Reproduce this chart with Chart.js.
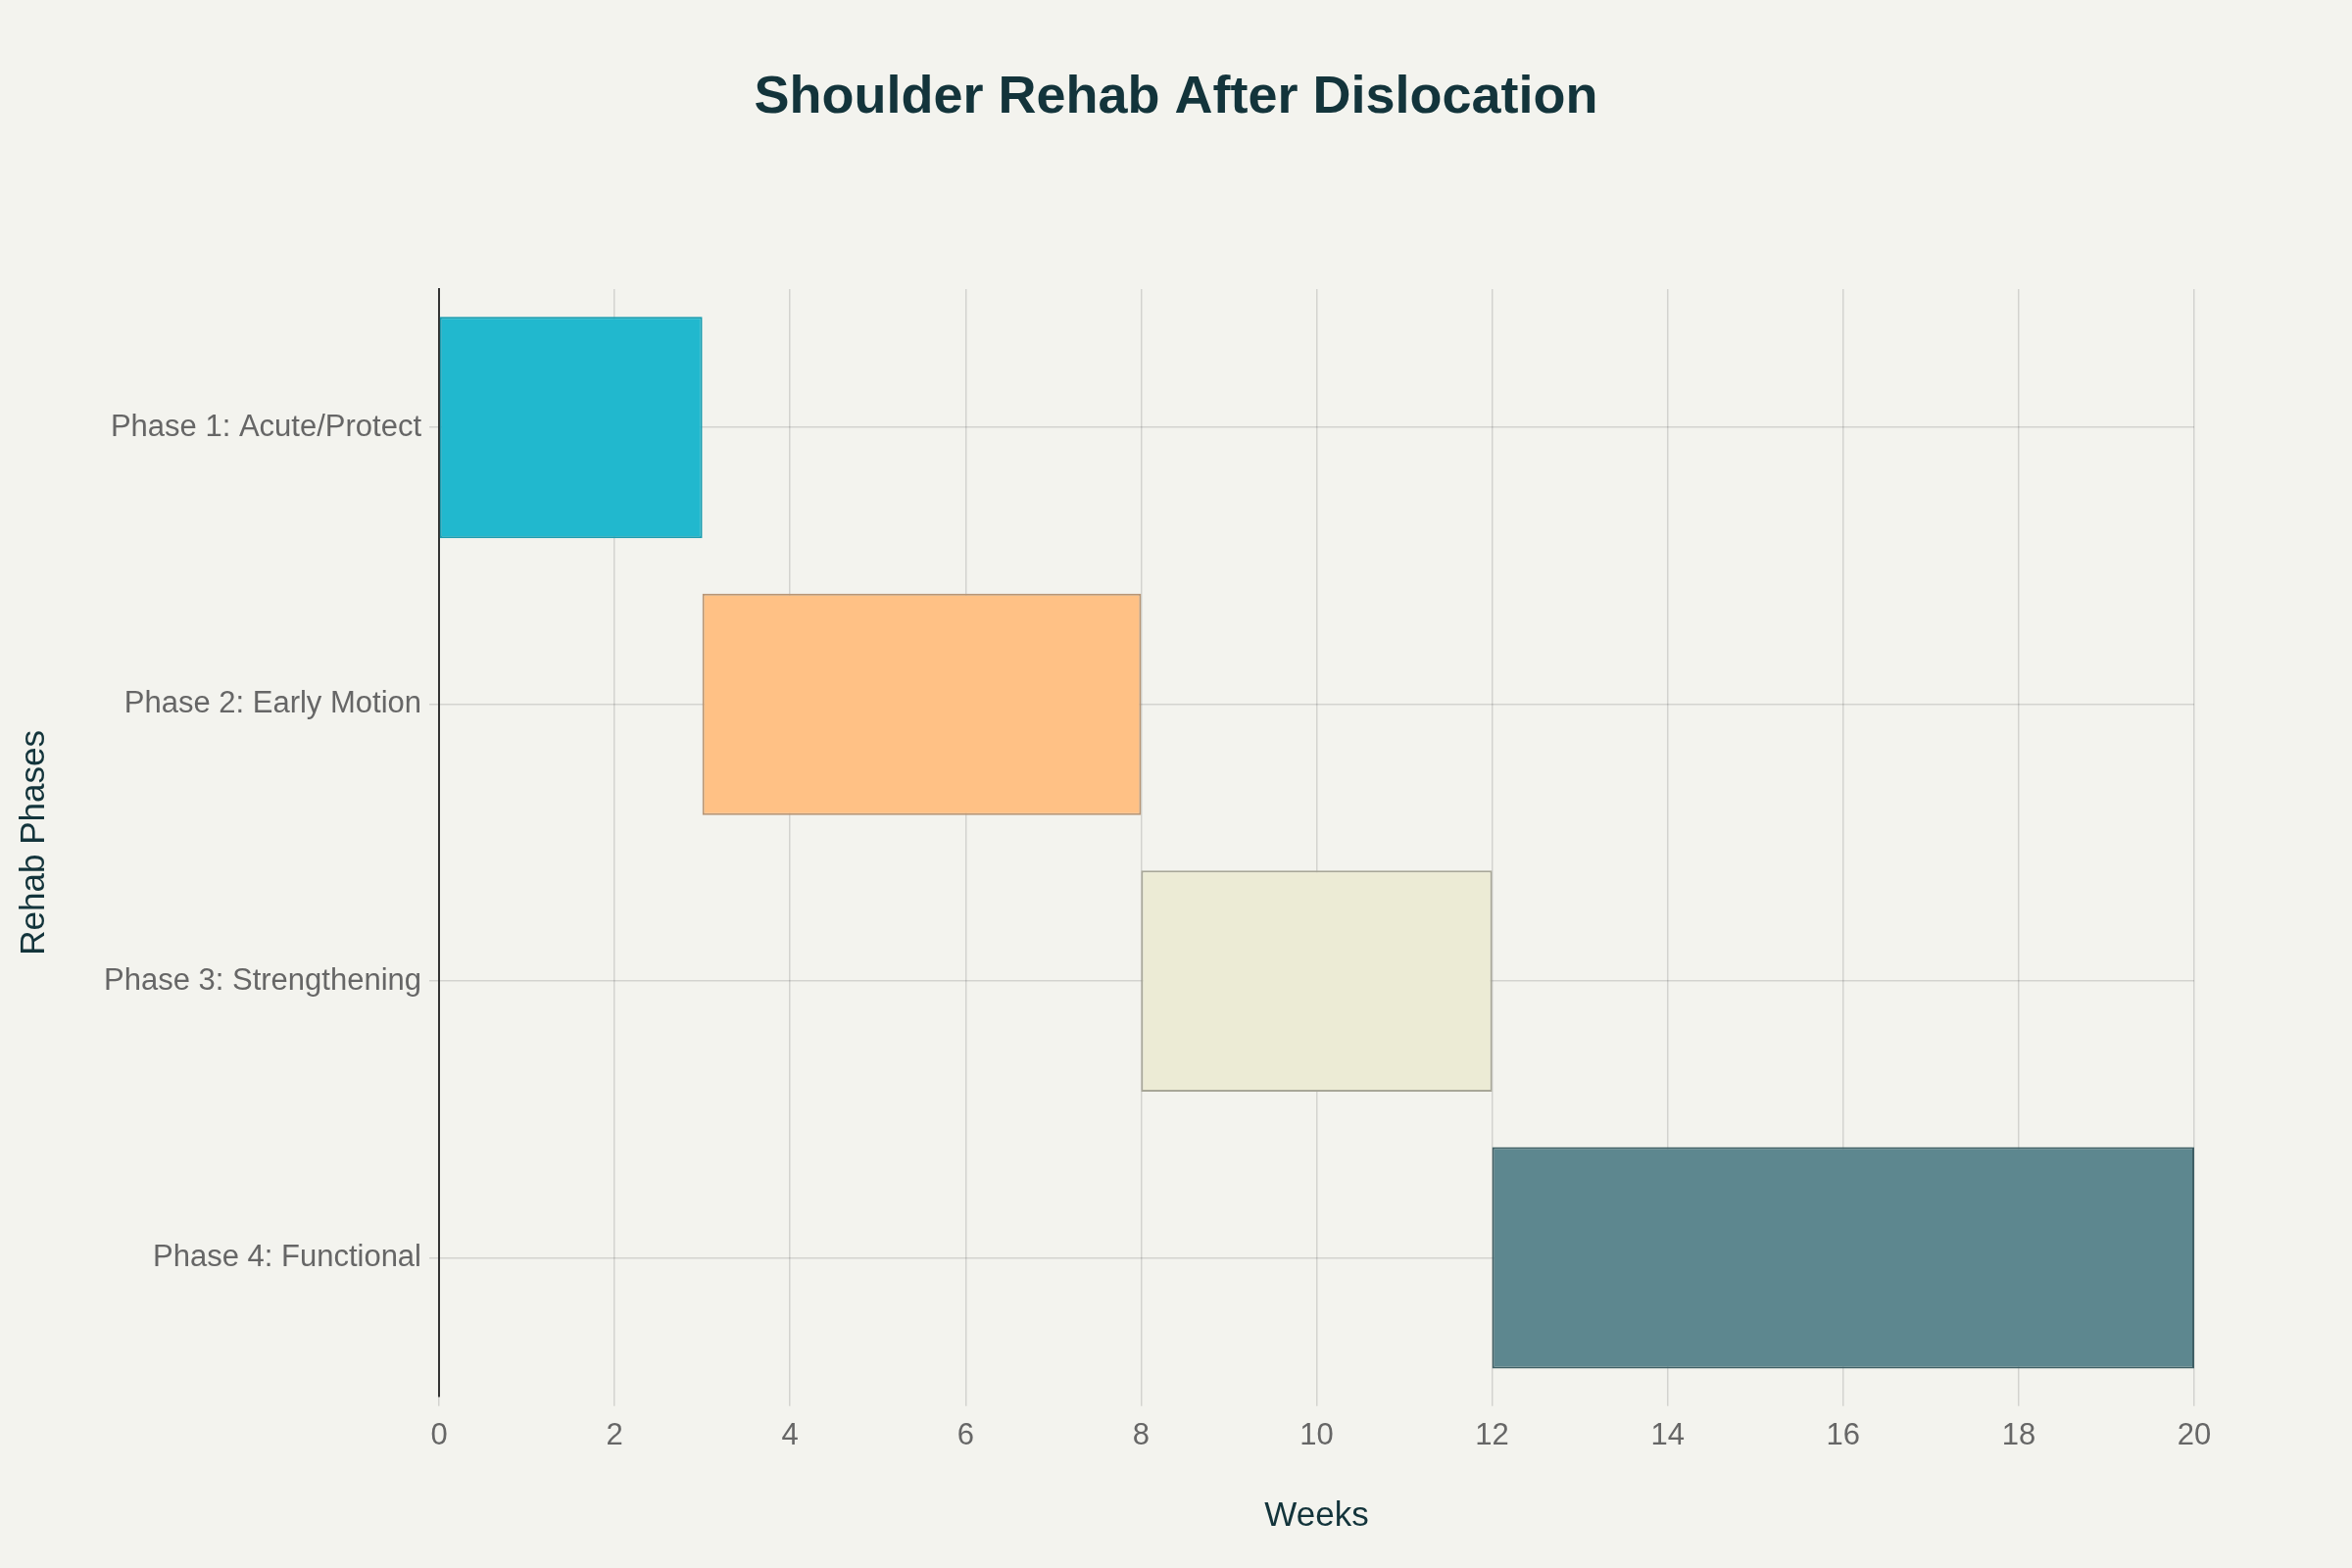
<!DOCTYPE html>
<html>
<head>
<meta charset="utf-8">
<script src="https://cdn.jsdelivr.net/npm/chart.js@4"></script>
<style>
  html, body { margin: 0; padding: 0; background: #F3F3EE; }
  #wrap { width: 2400px; height: 1600px; }
</style>
</head>
<body>
<div id="wrap"><canvas id="chart"></canvas></div>
<script>
// === DADOS ===
const phases = ['Phase 1: Acute/Protect', 'Phase 2: Early Motion', 'Phase 3: Strengthening', 'Phase 4: Functional'];
const startWeeks = [0, 3, 8, 12];
const endWeeks = [3, 8, 12, 20];
const barColors = ['#21B8CE', '#FFC185', '#ECEBD5', '#5D878F'];
const borderColors = ['#1A9DB0', '#B89676', '#A8A798', '#3F5F65'];
const chartTitle = 'Shoulder Rehab After Dislocation';

const font = "'Liberation Sans', Arial, sans-serif";

// fundo + título centrado no canvas inteiro
const bgPlugin = {
  id: 'bg',
  beforeDraw: (chart) => {
    const ctx = chart.ctx;
    ctx.save();
    ctx.fillStyle = '#F3F3EE';
    ctx.fillRect(0, 0, chart.width, chart.height);
    ctx.restore();
  },
  afterDraw: (chart) => {
    const ctx = chart.ctx;
    ctx.save();
    ctx.fillStyle = '#13343B';
    ctx.font = `bold 54px ${font}`;
    ctx.textAlign = 'center';
    ctx.textBaseline = 'middle';
    ctx.fillText(chartTitle, chart.width / 2, 100);
    ctx.restore();
  }
};

new Chart(document.getElementById('chart'), {
  type: 'bar',
  data: {
    labels: phases,
    datasets: [{
      data: startWeeks.map((s, i) => [s, endWeeks[i]]),
      backgroundColor: barColors,
      borderColor: borderColors,
      borderWidth: 2,
      borderSkipped: false,
      categoryPercentage: 1,
      barPercentage: 0.8
    }]
  },
  options: {
    indexAxis: 'y',
    responsive: true,
    maintainAspectRatio: false,
    animation: false,
    layout: { padding: { left: 10, right: 161, top: 295, bottom: 28 } },
    plugins: {
      legend: { display: false },
      tooltip: { enabled: false },
      title: { display: false }
    },
    scales: {
      x: {
        min: 0, max: 20,
        ticks: { stepSize: 2, color: '#666', font: { family: font, size: 31 }, padding: 12 },
        grid: { color: 'rgba(0,0,0,0.13)', lineWidth: 1.5, tickLength: 10 },
        border: { display: false },
        title: { display: true, text: 'Weeks', color: '#13343B', font: { family: font, size: 35 }, padding: { top: 30 } }
      },
      y: {
        afterFit: (scale) => { scale.width = 438; },
        ticks: { color: '#666', font: { family: font, size: 31 }, padding: 8 },
        grid: { offset: false, color: 'rgba(0,0,0,0.13)', lineWidth: 1.5, tickLength: 10 },
        border: { display: true, color: '#333', width: 2 },
        title: { display: true, text: 'Rehab Phases', color: '#13343B', font: { family: font, size: 35 }, padding: { bottom: 20 } }
      }
    }
  },
  plugins: [bgPlugin]
});
</script>
</body>
</html>
